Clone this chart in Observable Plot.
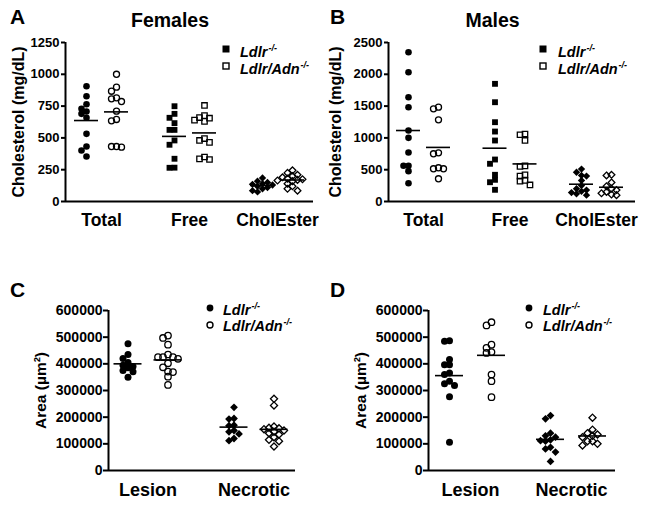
<!DOCTYPE html>
<html><head><meta charset="utf-8">
<script src="https://cdn.jsdelivr.net/npm/d3@7"></script>
<script src="https://cdn.jsdelivr.net/npm/@observablehq/plot@0.6"></script>
<style>
body{margin:0;background:#fff;}
#fig{position:relative;width:652px;height:505px;background:#fff;font-family:"Liberation Sans",Arial,sans-serif;font-weight:bold;color:#000;overflow:hidden}
.abs{position:absolute;line-height:1;white-space:nowrap}
.panel{position:absolute}
.leg{position:absolute;font-style:italic;font-size:14.5px;line-height:1;white-space:nowrap}
.leg sup{font-size:9px;line-height:0;vertical-align:0;position:relative;top:-6px;margin-left:1px}
.sym{position:absolute}
</style>
</head><body>
<div id="fig"></div>
<script>
// ---------- data ----------
const cholCategories = ["Total", "Free", "CholEster"];
const areaCategories = ["Lesion", "Necrotic"];
const genotypeLabels = ["Ldlr", "Ldlr/Adn"];
const genotypeSup = "-/-";
const panelTitles = ["Females", "Males"];
const panelLetters = ["A", "B", "C", "D"];
const cholLabel = "Cholesterol (mg/dL)";
const areaLabel = "Area (µm²)";
const femaleTicks = [0, 250, 500, 750, 1000, 1250];
const maleTicks = [0, 500, 1000, 1500, 2000, 2500];
const areaTicks = [0, 100000, 200000, 300000, 400000, 500000, 600000];

// Females (A)
const femTotalLdlr = [906, 828, 765, 729, 708, 689, 658, 532, 432, 401, 354];
const femTotalAdn  = [1000, 899, 867, 815, 807, 786, 710, 645, 634, 432, 427, 432];
const femFreeLdlr  = [749, 689, 658, 616, 563, 563, 480, 446, 336, 265, 266];
const femFreeAdn   = [755, 675, 660, 655, 640, 630, 495, 480, 465, 350, 335, 330];
const femCELdlr    = [185, 160, 150, 140, 135, 130, 120, 110, 100, 85, 75];
const femCEAdn     = [245, 225, 210, 200, 190, 180, 175, 170, 165, 160, 140, 120, 100, 85];
// Males (B)
const maleTotalLdlr = [2347, 2033, 1640, 1483, 1116, 1001, 770, 561, 561, 477, 288];
const maleTotalAdn  = [1483, 1457, 1284, 765, 750, 530, 514, 514, 357];
const maleFreeLdlr  = [1850, 1561, 1247, 1100, 959, 660, 593, 420, 341, 303, 184];
const maleFreeAdn   = [1060, 1050, 960, 560, 550, 420, 400, 330, 320, 260];
const maleCELdlr    = [510, 460, 410, 400, 330, 250, 200, 180, 160, 140, 120, 100];
const maleCEAdn     = [420, 410, 300, 240, 200, 180, 150, 130, 110, 100];
// C
const cLesionLdlr = [475000, 435000, 420000, 405000, 395000, 390000, 385000, 375000, 370000, 350000];
const cLesionAdn  = [506000, 497000, 472000, 435000, 425000, 425000, 425000, 419000, 402000, 387000, 371000, 369000, 352000, 321000];
const cNecLdlr    = [237000, 195000, 193000, 170000, 168000, 150000, 145000, 137000, 120000, 112000];
const cNecAdn     = [269000, 244000, 165000, 160000, 158000, 155000, 150000, 145000, 140000, 135000, 125000, 115000, 110000, 90000];
// D
const dLesionLdlr = [487000, 485000, 416000, 397000, 397000, 366000, 360000, 335000, 325000, 319000, 277000, 106000];
const dLesionAdn  = [556000, 544000, 472000, 460000, 444000, 441000, 360000, 335000, 275000];
const dNecLdlr    = [206000, 194000, 140000, 130000, 125000, 115000, 112000, 110000, 87000, 81000, 69000, 34000];
const dNecAdn     = [198000, 153000, 140000, 135000, 130000, 125000, 110000, 110000, 100000, 94000];

// ---------- layout / style ----------
const FONT = '"Liberation Sans", Arial, sans-serif';
const cholShapes = ["circle", "square", "diamond2"];
const areaShapes = ["circle", "diamond2"];

const geoA = {left:0, top:0, w:326, h:240, axis:65, c0:101, unit:88, end:313, base:201, topY:42,
  groupOff:15, half:12, r:3.3, tickFont:13, catFont:17.5, labelFont:16, labelX:18, tickSize:4, tickPad:2, catPad:12};
const geoB = {...geoA, left:326, axis:388, c0:423, unit:86.5, end:635, labelX:335};
const geoC = {left:0, top:240, w:326, h:265, axis:108, c0:147.5, unit:106, end:295, base:470, topY:310,
  groupOff:20, half:14, r:3.5, tickFont:14, catFont:18, labelFont:15.5, labelX:40.5, tickSize:5, tickPad:1, catPad:13};
const geoD = {...geoC, left:326, axis:428, c0:470, unit:101, end:615, groupOff:21, labelX:360.5};

function dodgeOffsets(values, ymax, plotH, step, minDist) {
  const order = d3.range(values.length).sort((a, b) => d3.descending(values[a], values[b]));
  const placed = [];
  const offs = new Array(values.length).fill(0);
  for (const i of order) {
    const py = values[i] / ymax * plotH;
    let done = false;
    for (let k = 0; k < 40 && !done; k++) {
      const cands = k === 0 ? [0] : [-k, k];
      for (const c of cands) {
        const px = c * step;
        if (placed.every(p => Math.hypot(p.px - px, p.py - py) >= minDist)) {
          placed.push({px, py}); offs[i] = px; done = true; break;
        }
      }
    }
  }
  return offs;
}

function makePanel(geo, cats, shapes, series, ticks, ylabel) {
  const ymax = ticks[ticks.length - 1];
  const xDom = [(geo.axis - geo.c0) / geo.unit, (geo.end - geo.c0) / geo.unit];
  const plotH = geo.base - geo.topY;
  const marks = [];
  marks.push(Plot.ruleY([0], {x1: xDom[0], x2: xDom[1], strokeWidth: 2}));
  marks.push(Plot.ruleX([xDom[0]], {y1: 0, y2: ymax, strokeWidth: 2}));
  marks.push(Plot.axisY({ticks, tickFormat: d3.format("d"), tickSize: geo.tickSize, tickPadding: geo.tickPad,
    strokeWidth: 2, fontSize: geo.tickFont, fontWeight: "bold", label: null}));
  marks.push(Plot.axisX({ticks: d3.range(cats.length), tickFormat: i => cats[i], tickSize: 0,
    tickPadding: geo.catPad, fontSize: geo.catFont, fontWeight: "bold", label: null}));
  marks.push(Plot.text([ylabel], {text: d => d, frameAnchor: "left", textAnchor: "middle", lineAnchor: "middle",
    dx: geo.labelX - geo.axis, rotate: -90, fontSize: geo.labelFont, fontWeight: "bold"}));
  const means = [];
  series.forEach((pair, ci) => {
    pair.forEach((values, gi) => {
      const center = ci + (gi === 0 ? -1 : 1) * geo.groupOff / geo.unit;
      const offs = dodgeOffsets(values, ymax, plotH, 5, 5);
      const pts = values.map((v, j) => ({x: center + offs[j] / geo.unit, y: v}));
      means.push({y: d3.mean(values), x1: center - geo.half / geo.unit, x2: center + geo.half / geo.unit});
      const shape = shapes[ci];
      if (gi === 0) {
        marks.push(Plot.dot(pts, {x: "x", y: "y", symbol: shape, r: geo.r, fill: "black", stroke: "none"}));
      } else {
        marks.push(Plot.dot(pts, {x: "x", y: "y", symbol: shape, r: geo.r * 0.92, fill: "none", stroke: "black", strokeWidth: 1.3}));
      }
    });
  });
  marks.push(Plot.ruleY(means, {y: "y", x1: "x1", x2: "x2", strokeWidth: 1.6}));
  const svg = Plot.plot({
    width: geo.w, height: geo.h,
    marginLeft: geo.axis - geo.left, marginRight: geo.left + geo.w - geo.end,
    marginTop: geo.topY - geo.top, marginBottom: geo.top + geo.h - geo.base,
    x: {domain: xDom, label: null},
    y: {domain: [0, ymax], label: null},
    style: {fontFamily: FONT, fontWeight: "bold", background: "transparent", overflow: "visible", color: "black"},
    marks
  });
  const wrap = document.createElement("div");
  wrap.className = "panel";
  wrap.style.left = geo.left + "px";
  wrap.style.top = geo.top + "px";
  wrap.appendChild(svg);
  return wrap;
}

const fig = document.getElementById("fig");
fig.appendChild(makePanel(geoA, cholCategories, cholShapes,
  [[femTotalLdlr, femTotalAdn], [femFreeLdlr, femFreeAdn], [femCELdlr, femCEAdn]], femaleTicks, cholLabel));
fig.appendChild(makePanel(geoB, cholCategories, cholShapes,
  [[maleTotalLdlr, maleTotalAdn], [maleFreeLdlr, maleFreeAdn], [maleCELdlr, maleCEAdn]], maleTicks, cholLabel));
fig.appendChild(makePanel(geoC, areaCategories, areaShapes,
  [[cLesionLdlr, cLesionAdn], [cNecLdlr, cNecAdn]], areaTicks, areaLabel));
fig.appendChild(makePanel(geoD, areaCategories, areaShapes,
  [[dLesionLdlr, dLesionAdn], [dNecLdlr, dNecAdn]], areaTicks, areaLabel));

// ---------- texts ----------
function addText(txt, x, baseline, size, center) {
  const d = document.createElement("div");
  d.className = "abs";
  d.textContent = txt;
  d.style.fontSize = size + "px";
  d.style.top = (baseline - 0.8465 * size) + "px";
  d.style.left = x + "px";
  if (center) d.style.transform = "translateX(-50%)";
  fig.appendChild(d);
}
addText(panelLetters[0], 10, 23.5, 21);
addText(panelLetters[1], 330, 23.5, 21);
addText(panelLetters[2], 10, 296.5, 21);
addText(panelLetters[3], 330, 296.5, 21);
addText(panelTitles[0], 170, 27.3, 19.5, true);
addText(panelTitles[1], 492.5, 27.3, 19.5, true);

function addLegendRow(sx, sy, shape, filled, tx, baseline, label) {
  const s = document.createElementNS("http://www.w3.org/2000/svg", "svg");
  s.setAttribute("width", 10); s.setAttribute("height", 10);
  s.setAttribute("class", "sym");
  s.style.left = (sx - 5) + "px"; s.style.top = (sy - 5) + "px";
  const el = document.createElementNS("http://www.w3.org/2000/svg", shape === "square" ? "rect" : "circle");
  if (shape === "square") {
    el.setAttribute("x", filled ? 1.5 : 2); el.setAttribute("y", filled ? 1.5 : 2);
    el.setAttribute("width", filled ? 7 : 6); el.setAttribute("height", filled ? 7 : 6);
  } else {
    el.setAttribute("cx", 5); el.setAttribute("cy", 5); el.setAttribute("r", filled ? 3.4 : 3);
  }
  el.setAttribute("fill", filled ? "black" : "white");
  if (!filled) { el.setAttribute("stroke", "black"); el.setAttribute("stroke-width", 1.4); }
  s.appendChild(el);
  fig.appendChild(s);
  const d = document.createElement("div");
  d.className = "leg";
  d.style.left = tx + "px";
  d.style.top = (baseline - 0.8465 * 14.5) + "px";
  d.innerHTML = label + "<sup>" + genotypeSup + "</sup>";
  fig.appendChild(d);
}
addLegendRow(226, 49, "square", true, 240, 57, genotypeLabels[0]);
addLegendRow(226, 66, "square", false, 240, 74, genotypeLabels[1]);
addLegendRow(543, 49, "square", true, 558, 57, genotypeLabels[0]);
addLegendRow(543, 66, "square", false, 558, 74, genotypeLabels[1]);
addLegendRow(210, 308, "circle", true, 223, 315, genotypeLabels[0]);
addLegendRow(210, 324.5, "circle", false, 223, 331.7, genotypeLabels[1]);
addLegendRow(529, 308, "circle", true, 543, 315, genotypeLabels[0]);
addLegendRow(529, 324.5, "circle", false, 543, 331.7, genotypeLabels[1]);
</script>
</body></html>
